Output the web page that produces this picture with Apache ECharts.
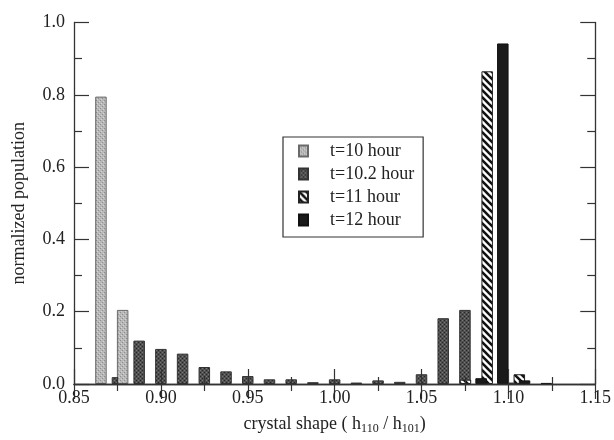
<!DOCTYPE html>
<html><head><meta charset="utf-8">
<script src="https://cdn.jsdelivr.net/npm/echarts@6/dist/echarts.min.js"></script>
<style>html,body{margin:0;padding:0;background:#fff}#c{width:614px;height:440px}</style>
</head><body><div id="c"></div>
<script>
// ---- data ----
const seriesNames = ['t=10 hour', 't=10.2 hour', 't=11 hour', 't=12 hour'];
const t10X = [0.8655, 0.878];
const t10Y = [0.795, 0.205];
const t102X = [0.875, 0.8875, 0.9, 0.9125, 0.925, 0.9375, 0.95, 0.9625, 0.975, 0.9875, 1.0, 1.0125, 1.025, 1.0375, 1.05, 1.0625, 1.075, 1.0875, 1.1];
const t102Y = [0.019, 0.120, 0.097, 0.084, 0.047, 0.035, 0.022, 0.013, 0.013, 0.005, 0.013, 0.004, 0.010, 0.006, 0.027, 0.182, 0.205, 0.010, 0.004];
const t11X = [1.0753, 1.0878, 1.1063];
const t11Y = [0.012, 0.865, 0.027];
const t12X = [1.0843, 1.0968, 1.1093, 1.1218];
const t12Y = [0.016, 0.942, 0.010, 0.003];
const xTicks = { min: 0.85, max: 1.15, step: 0.05 };
const yTicks = { min: 0, max: 1.0, step: 0.2 };

// ---- patterns ----
function pat(w, h, draw) {
  const c = document.createElement('canvas'); c.width = w; c.height = h;
  const g = c.getContext('2d'); draw(g, w, h); return c;
}
const lightPat = pat(4, 4, (g) => {
  g.fillStyle = '#b8b8b8'; g.fillRect(0, 0, 4, 4);
  g.fillStyle = '#8e8e8e'; g.fillRect(0, 0, 1, 1); g.fillRect(2, 2, 1, 1);
  g.fillStyle = '#d4d4d4'; g.fillRect(1, 3, 1, 1); g.fillRect(3, 1, 1, 1);
});
const darkPat = pat(4, 4, (g) => {
  g.fillStyle = '#505050'; g.fillRect(0, 0, 4, 4);
  g.fillStyle = '#262626'; g.fillRect(0, 0, 1, 1); g.fillRect(2, 2, 1, 1);
  g.fillStyle = '#767676'; g.fillRect(0, 2, 1, 1); g.fillRect(2, 0, 1, 1);
});
const hatchPat = pat(7, 7, (g) => {
  g.fillStyle = '#fff'; g.fillRect(0, 0, 7, 7);
  g.strokeStyle = '#111'; g.lineWidth = 2.6;
  [-7, 0, 7].forEach(o => { g.beginPath(); g.moveTo(o - 1, -1); g.lineTo(o + 8, 8); g.stroke(); });
});

const zip = (xs, ys) => xs.map((x, i) => [x, ys[i]]);
const font = 'Liberation Serif';
const axisCol = '#333';

function barSeries(name, data, color, border, z) {
  return {
    name, type: 'bar', data, barWidth: 11.5, barGap: '-100%', z,
    itemStyle: { color, borderColor: border, borderWidth: 1 },
    emphasis: { disabled: true }, animation: false
  };
}

const xBase = {
  type: 'value', min: xTicks.min, max: xTicks.max, interval: xTicks.step,
  axisLine: { lineStyle: { color: axisCol, width: 1.3 } },
  axisTick: { inside: true, length: 15, lineStyle: { color: axisCol, width: 1.2 } },
  minorTick: { show: true, splitNumber: 2, length: 7, lineStyle: { color: axisCol, width: 1.2 } },
  splitLine: { show: false }, z: 10
};
const yBase = {
  type: 'value', min: yTicks.min, max: yTicks.max, interval: yTicks.step,
  axisLine: { show: true, lineStyle: { color: axisCol, width: 1.3 } },
  axisTick: { show: true, inside: true, length: 15, lineStyle: { color: axisCol, width: 1.2 } },
  minorTick: { show: true, splitNumber: 2, length: 8, lineStyle: { color: axisCol, width: 1.2 } },
  splitLine: { show: false }, z: 10
};

const chart = echarts.init(document.getElementById('c'), null, { renderer: 'canvas' });
chart.setOption({
  animation: false,
  backgroundColor: '#fff',
  grid: { left: 74, right: 18, top: 22.5, bottom: 53 },
  legend: {
    data: seriesNames, orient: 'vertical', left: 283, top: 137,
    icon: 'rect', itemWidth: 9, itemHeight: 11, itemGap: 5,
    padding: [5, 9, 8, 15], borderColor: '#333', borderWidth: 1.2,
    textStyle: { fontFamily: font, fontSize: 18, color: '#222', lineHeight: 18, padding: [0, 0, 0, 17] },
    selectedMode: false
  },
  xAxis: [
    Object.assign({}, xBase, {
      position: 'bottom',
      axisLabel: { fontFamily: font, fontSize: 18, color: '#222', margin: 5, formatter: v => v.toFixed(2) },
      name: '{a|crystal shape ( h}{s|110}{a| / h}{s|101}{a|)}',
      nameLocation: 'middle', nameGap: 30,
      nameTextStyle: {
        fontFamily: font, color: '#222',
        rich: { a: { fontFamily: font, fontSize: 18, color: '#222' }, s: { fontFamily: font, fontSize: 12, color: '#222', padding: [9, 0, 0, 0] } }
      }
    }),
    Object.assign({}, xBase, { position: 'top', axisLabel: { show: false } })
  ],
  yAxis: [
    Object.assign({}, yBase, {
      position: 'left',
      axisLabel: { fontFamily: font, fontSize: 18, color: '#222', margin: 9, formatter: v => v.toFixed(1) },
      name: 'normalized population', nameLocation: 'middle', nameGap: 46, nameRotate: 90,
      nameTextStyle: { fontFamily: font, fontSize: 18, color: '#222' }
    }),
    Object.assign({}, yBase, { position: 'right', axisLabel: { show: false } })
  ],
  series: [
    barSeries(seriesNames[0], zip(t10X, t10Y), { image: lightPat, repeat: 'repeat' }, '#6a6a6a', 4),
    barSeries(seriesNames[1], zip(t102X, t102Y), { image: darkPat, repeat: 'repeat' }, '#333', 3),
    barSeries(seriesNames[2], zip(t11X, t11Y), { image: hatchPat, repeat: 'repeat' }, '#222', 3),
    barSeries(seriesNames[3], zip(t12X, t12Y), '#1a1a1a', '#111', 3)
  ]
});
</script></body></html>
